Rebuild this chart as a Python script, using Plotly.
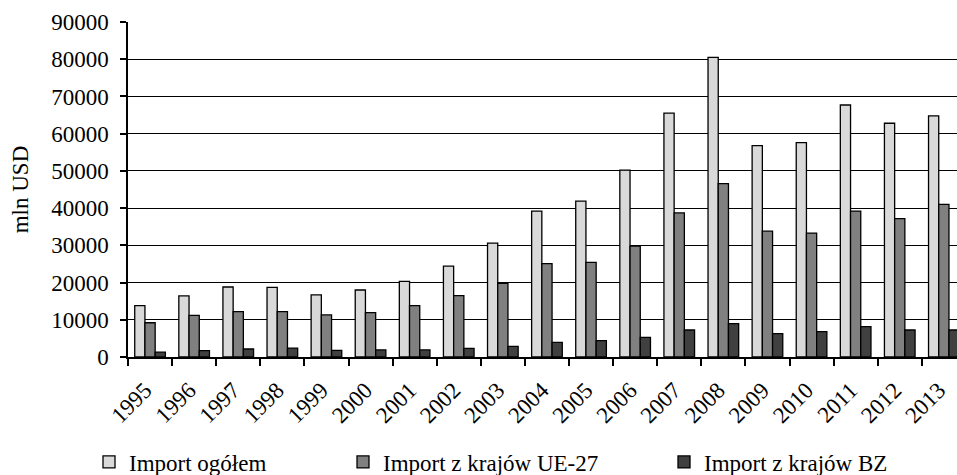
import plotly.graph_objects as go

years = [str(y) for y in range(1995, 2014)]
import_total = [13800, 16400, 18800, 18700, 16700, 18000, 20300, 24400, 30600, 39200,
                41900, 50200, 65500, 80500, 56800, 57600, 67700, 62800, 64800]
import_eu27 = [9200, 11200, 12200, 12200, 11300, 11900, 13800, 16500, 19800, 25100,
               25400, 29800, 38700, 46600, 33800, 33300, 39200, 37200, 41000]
import_bz = [1300, 1700, 2150, 2400, 1800, 1900, 1900, 2330, 2860, 3940,
             4390, 5280, 7250, 8950, 6270, 6800, 8150, 7250, 7250]
names = ["Import ogółem", "Import z krajów UE-27", "Import z krajów BZ"]
colors = ["#D9D9D9", "#808080", "#404040"]

FONT = "Liberation Serif"
FS = 23

W, H = 957, 475
L, R, T, B = 128, 0, 22, 118

fig = go.Figure()
legends = ["legend", "legend2", "legend3"]
for vals, name, col, lg in zip([import_total, import_eu27, import_bz], names, colors, legends):
    fig.add_trace(go.Bar(
        x=years, y=vals, name=name, legend=lg,
        marker=dict(color=col, line=dict(color="black", width=1.3)),
    ))

leg_left_px = [89, 343, 664]
layout_legends = {}
for lg, lx in zip(legends, leg_left_px):
    layout_legends[lg] = dict(
        xref="container", yref="container",
        x=lx / W, xanchor="left",
        y=1 - 462 / H, yanchor="middle",
        orientation="h", bgcolor="rgba(0,0,0,0)", borderwidth=0,
        font=dict(family=FONT, size=FS, color="black"),
        itemwidth=30,
    )

fig.update_layout(
    width=W, height=H,
    margin=dict(l=L, r=R, t=T, b=B, pad=0, autoexpand=False),
    paper_bgcolor="white", plot_bgcolor="white",
    barmode="group", bargap=0.305, bargroupgap=0,
    font=dict(family=FONT, size=FS, color="black"),
    showlegend=True,
    **layout_legends,
)

fig.update_xaxes(
    type="category", automargin=False,
    range=[-0.5, -0.5 + 829 / 44.1],
    showline=True, linecolor="black", linewidth=1.5,
    ticks="outside", tickson="boundaries", ticklen=7, tickwidth=1.5, tickcolor="black",
    tickangle=-45, showgrid=False,
    ticklabelstandoff=9, ticklabelshift=-5,
    tickfont=dict(family=FONT, size=FS, color="black"),
)
fig.update_yaxes(
    range=[0, 90000], tickvals=list(range(0, 90001, 10000)), tickformat="d",
    automargin=False,
    showline=True, linecolor="black", linewidth=1.5,
    ticks="outside", ticklen=6, tickwidth=1.5, tickcolor="black",
    showgrid=True, gridcolor="black", gridwidth=1.3,
    zeroline=False,
    ticklabelstandoff=7,
    tickfont=dict(family=FONT, size=FS, color="black"),
    title=dict(text="mln USD", font=dict(family=FONT, size=FS, color="black"), standoff=16),
)

fig.write_html(
    "out.html",
    config={"displayModeBar": False},
    post_script="document.body.style.margin='0';document.body.style.overflow='hidden';",
)
